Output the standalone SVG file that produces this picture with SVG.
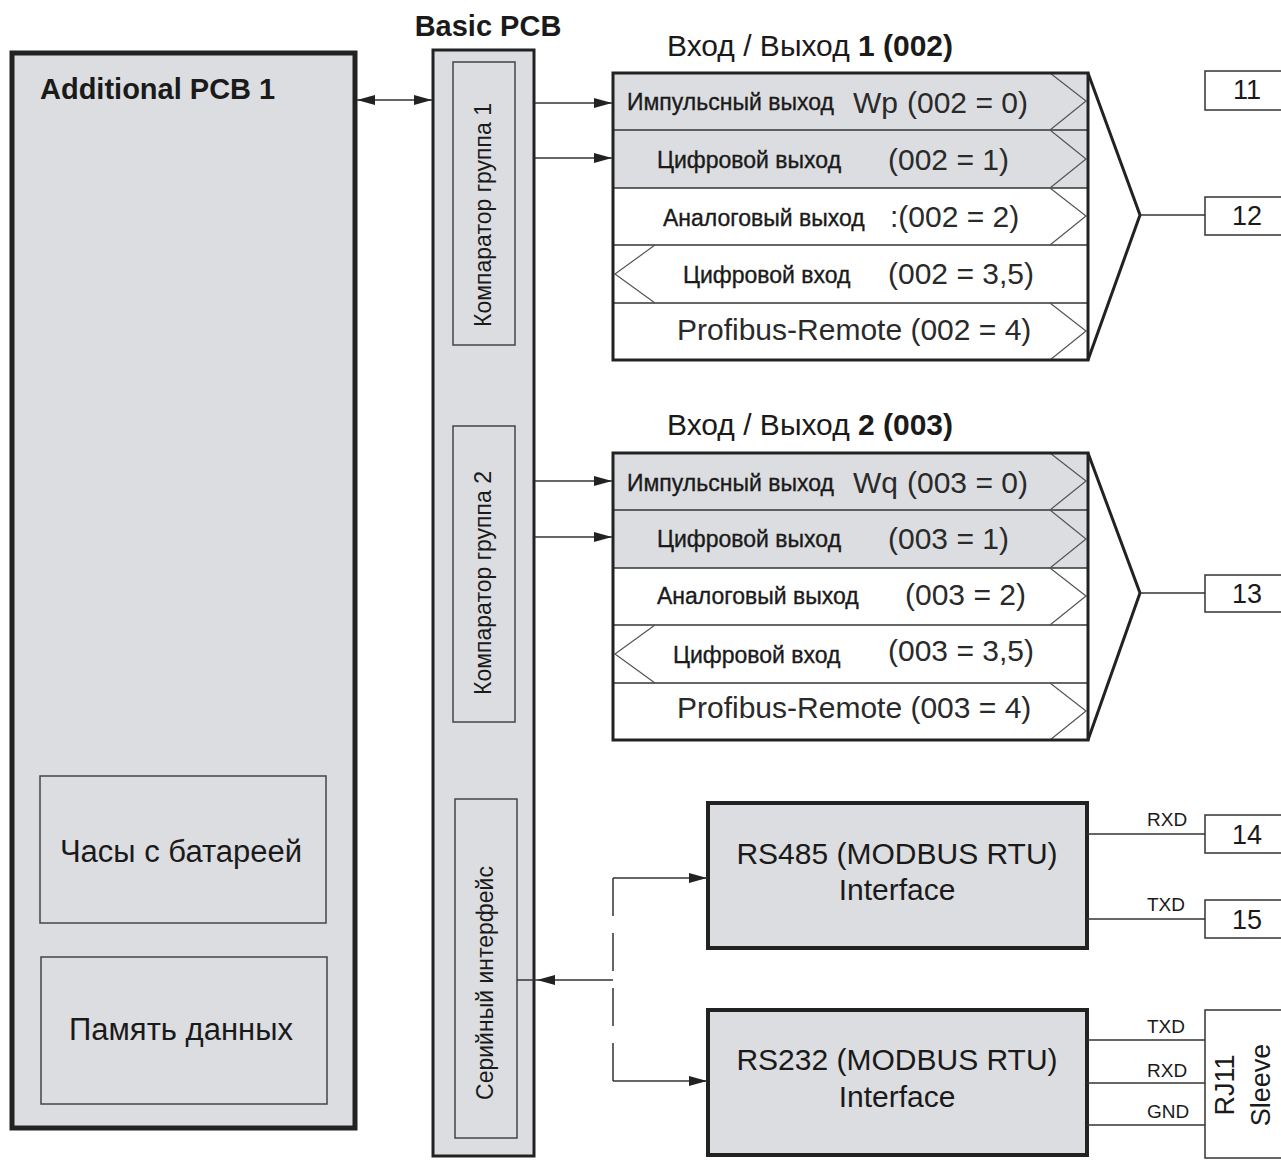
<svg xmlns="http://www.w3.org/2000/svg" width="1281" height="1173" viewBox="0 0 1281 1173">
<defs>
<style>
text{font-family:"Liberation Sans",Arial,sans-serif;fill:#1a1a1a}
.pcb{fill:#dcdde0;stroke:#222}
.inner{fill:#dcdde0;stroke:#444;stroke-width:1.5}
.io{fill:none;stroke:#222;stroke-width:3}
.div{stroke:#333;stroke-width:1.5}
.chev{fill:none;stroke:#555;stroke-width:1.2}
.lbl{font-size:23px;stroke:#1a1a1a;stroke-width:0.35}
.num{font-size:30px;fill:#2a2a2a}
.small{font-size:19px}
.term{fill:#fff;stroke:#333;stroke-width:1.5}
.con{fill:none;stroke:#333;stroke-width:1.5}
.vert{font-size:23px}
.big{font-size:30px}
</style>
<marker id="ah" viewBox="0 0 18 10" refX="18" refY="5" markerWidth="18" markerHeight="10" markerUnits="userSpaceOnUse" orient="auto-start-reverse"><path d="M0,0 L18,5 L0,10 z" fill="#222"/></marker>
</defs>
<rect width="1281" height="1173" fill="#fff"/>

<g id="additional-pcb">
<rect class="pcb" x="12" y="53" width="343" height="1075" stroke-width="5"/>
<text x="40" y="99" font-size="29" font-weight="bold">Additional PCB 1</text>
</g>
<g id="clock">
<rect class="inner" x="40" y="776" width="286" height="147"/>
<text x="181" y="862" font-size="31" text-anchor="middle">Часы с батареей</text>
</g>
<g id="memory">
<rect class="inner" x="41" y="957" width="286" height="147"/>
<text x="181" y="1040" font-size="31" text-anchor="middle">Память данных</text>
</g>

<g id="basic-pcb">
<text x="488" y="36" font-size="29" font-weight="bold" text-anchor="middle">Basic PCB</text>
<rect class="pcb" x="433" y="50" width="101" height="1106" stroke-width="3"/>
</g>
<g id="comp1">
<rect class="inner" x="453" y="62" width="62" height="283"/>
<text class="vert" transform="translate(491,215) rotate(-90)" text-anchor="middle">Компаратор группа 1</text>
</g>
<g id="comp2">
<rect class="inner" x="453" y="426" width="62" height="296"/>
<text class="vert" transform="translate(491,583) rotate(-90)" text-anchor="middle">Компаратор группа 2</text>
</g>
<g id="serial">
<rect class="inner" x="455" y="799" width="62" height="339"/>
<text class="vert" transform="translate(493,983) rotate(-90)" text-anchor="middle">Серийный интерфейс</text>
</g>

<g id="io1">
<text x="667" y="56" font-size="30">Вход / Выход <tspan font-weight="bold">1 (002)</tspan></text>
<rect x="613" y="73" width="475" height="115" fill="#dcdde0"/>
<rect x="613" y="188" width="475" height="172" fill="#fff"/>
<line class="div" x1="613" y1="130" x2="1088" y2="130"/>
<line class="div" x1="613" y1="188" x2="1088" y2="188"/>
<line class="div" x1="613" y1="245" x2="1088" y2="245"/>
<line class="div" x1="613" y1="303" x2="1088" y2="303"/>
<polyline class="chev" points="1050,73 1086,101 1050,130"/>
<polyline class="chev" points="1050,130 1086,159 1050,188"/>
<polyline class="chev" points="1050,188 1086,216 1050,245"/>
<polyline class="chev" points="655,245 615,274 655,303"/>
<polyline class="chev" points="1050,303 1086,331 1050,360"/>
<rect class="io" x="613" y="73" width="475" height="287"/>
<text class="lbl" x="627" y="110">Импульсный выход</text>
<text class="num" x="853" y="113">Wp</text>
<text class="num" x="907" y="113">(002 = 0)</text>
<text class="lbl" x="657" y="168">Цифровой выход</text>
<text class="num" x="888" y="170">(002 = 1)</text>
<text class="lbl" x="663" y="226">Аналоговый выход</text>
<text class="num" x="890" y="227">:(002 = 2)</text>
<text class="lbl" x="683" y="283">Цифровой вход</text>
<text class="num" x="888" y="284">(002 = 3,5)</text>
<text class="num" x="677" y="340">Profibus-Remote (002 = 4)</text>
</g>

<g id="io2">
<text x="667" y="435" font-size="30">Вход / Выход <tspan font-weight="bold">2 (003)</tspan></text>
<rect x="613" y="453" width="475" height="115" fill="#dcdde0"/>
<rect x="613" y="568" width="475" height="172" fill="#fff"/>
<line class="div" x1="613" y1="510" x2="1088" y2="510"/>
<line class="div" x1="613" y1="568" x2="1088" y2="568"/>
<line class="div" x1="613" y1="625" x2="1088" y2="625"/>
<line class="div" x1="613" y1="683" x2="1088" y2="683"/>
<polyline class="chev" points="1050,453 1086,481 1050,510"/>
<polyline class="chev" points="1050,510 1086,539 1050,568"/>
<polyline class="chev" points="1050,568 1086,596 1050,625"/>
<polyline class="chev" points="655,625 615,654 655,683"/>
<polyline class="chev" points="1050,683 1086,711 1050,740"/>
<rect class="io" x="613" y="453" width="475" height="287"/>
<text class="lbl" x="627" y="491">Импульсный выход</text>
<text class="num" x="853" y="493">Wq</text>
<text class="num" x="907" y="493">(003 = 0)</text>
<text class="lbl" x="657" y="547">Цифровой выход</text>
<text class="num" x="888" y="549">(003 = 1)</text>
<text class="lbl" x="657" y="604">Аналоговый выход</text>
<text class="num" x="905" y="605">(003 = 2)</text>
<text class="lbl" x="673" y="663">Цифровой вход</text>
<text class="num" x="888" y="661">(003 = 3,5)</text>
<text class="num" x="677" y="718">Profibus-Remote (003 = 4)</text>
</g>

<g id="rs485">
<rect class="pcb" x="708" y="803" width="379" height="145" stroke-width="4"/>
<text class="big" x="897" y="864" text-anchor="middle">RS485 (MODBUS RTU)</text>
<text class="big" x="897" y="900" text-anchor="middle">Interface</text>
</g>
<g id="rs232">
<rect class="pcb" x="708" y="1010" width="379" height="145" stroke-width="4"/>
<text class="big" x="897" y="1070" text-anchor="middle">RS232 (MODBUS RTU)</text>
<text class="big" x="897" y="1107" text-anchor="middle">Interface</text>
</g>

<g id="t11"><rect class="term" x="1205" y="71" width="90" height="39"/><text x="1247" y="99" font-size="27" text-anchor="middle">11</text></g>
<g id="t12"><rect class="term" x="1205" y="197" width="90" height="38"/><text x="1247" y="225" font-size="27" text-anchor="middle">12</text></g>
<g id="t13"><rect class="term" x="1205" y="575" width="90" height="37"/><text x="1247" y="603" font-size="27" text-anchor="middle">13</text></g>
<g id="t14"><rect class="term" x="1205" y="815" width="90" height="38"/><text x="1247" y="844" font-size="27" text-anchor="middle">14</text></g>
<g id="t15"><rect class="term" x="1205" y="900" width="90" height="38"/><text x="1247" y="929" font-size="27" text-anchor="middle">15</text></g>
<g id="rj11">
<rect class="term" x="1205" y="1010" width="90" height="148"/>
<text transform="translate(1234,1085) rotate(-90)" font-size="27" text-anchor="middle">RJ11</text>
<text transform="translate(1270,1085) rotate(-90)" font-size="27" text-anchor="middle">Sleeve</text>
</g>

<g id="connectors">
<line class="con" x1="357" y1="100" x2="432" y2="100" marker-start="url(#ah)" marker-end="url(#ah)"/>
<line class="con" x1="535" y1="103" x2="612" y2="103" marker-end="url(#ah)"/>
<line class="con" x1="535" y1="158" x2="612" y2="158" marker-end="url(#ah)"/>
<line class="con" x1="535" y1="481" x2="612" y2="481" marker-end="url(#ah)"/>
<line class="con" x1="535" y1="537" x2="612" y2="537" marker-end="url(#ah)"/>
<polyline points="1088,73 1140,215 1088,360" fill="none" stroke="#222" stroke-width="3"/>
<line class="con" x1="1140" y1="215" x2="1205" y2="215"/>
<polyline points="1088,453 1140,593 1088,740" fill="none" stroke="#222" stroke-width="3"/>
<line class="con" x1="1140" y1="593" x2="1205" y2="593"/>
<line class="con" x1="1087" y1="834" x2="1205" y2="834"/>
<line class="con" x1="1087" y1="919" x2="1205" y2="919"/>
<line class="con" x1="1087" y1="1040" x2="1205" y2="1040"/>
<line class="con" x1="1087" y1="1083" x2="1205" y2="1083"/>
<line class="con" x1="1087" y1="1125" x2="1205" y2="1125"/>
<line class="con" x1="613" y1="980" x2="537" y2="980" marker-end="url(#ah)"/>
<line class="con" x1="537" y1="980" x2="517" y2="980"/>
<line class="con" x1="613" y1="878" x2="613" y2="1081" stroke-dasharray="38 17"/>
<line class="con" x1="613" y1="878" x2="707" y2="878" marker-end="url(#ah)"/>
<line class="con" x1="613" y1="1081" x2="707" y2="1081" marker-end="url(#ah)"/>
<text class="small" x="1147" y="826">RXD</text>
<text class="small" x="1147" y="911">TXD</text>
<text class="small" x="1147" y="1033">TXD</text>
<text class="small" x="1147" y="1077">RXD</text>
<text class="small" x="1147" y="1118">GND</text>
</g>
</svg>
